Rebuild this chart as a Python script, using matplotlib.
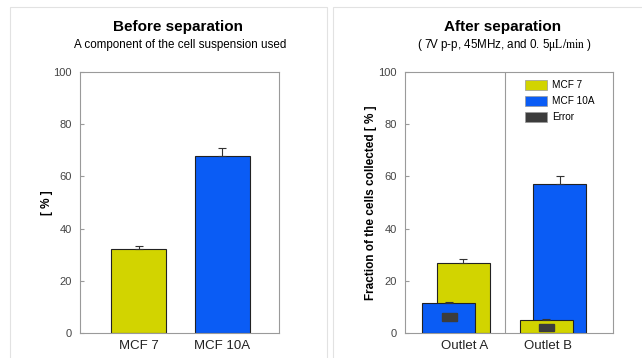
import matplotlib
matplotlib.use("Agg")
import matplotlib.pyplot as plt
from matplotlib.patches import Patch, Rectangle
import numpy as np

plt.rcParams['font.family'] = ['Liberation Sans', 'DejaVu Sans']
plt.rcParams['mathtext.fontset'] = 'stix'

# Data
before_cats = ["MCF 7", "MCF 10A"]
before_vals = [32, 68]
before_err = [1.5, 3.0]

outlets = ["Outlet A", "Outlet B"]
mcf7_vals = [27, 5]
mcf7_err = [1.3, 0.4]
mcf10a_vals = [11.5, 57]
mcf10a_err = [0.4, 3.0]
error_vals = [6.1, 2.1]

yellow = "#d2d400"
blue = "#0a5cf5"
dark = "#3c3c3c"
spine_c = "#9a9a9a"

fig = plt.figure(figsize=(6.42, 3.58), dpi=100)
fig.patch.set_facecolor("white")

# panel frames
for x0, x1 in [(10, 327), (333, 645)]:
    fig.add_artist(Rectangle((x0 / 642, -0.01), (x1 - x0) / 642, 1 - 7 / 358 + 0.01,
                             transform=fig.transFigure, fill=False,
                             edgecolor="#e2e2e2", lw=0.8))

def style(ax):
    ax.set_ylim(0, 100)
    ax.set_yticks([0, 20, 40, 60, 80, 100])
    for s in ax.spines.values():
        s.set_color(spine_c)
        s.set_linewidth(0.8)
    ax.tick_params(axis='y', direction='in', length=3, color=spine_c,
                   labelsize=8, labelcolor="#444444", pad=6)
    ax.tick_params(axis='x', length=0, labelsize=9.5, pad=5, labelcolor="#222222")

# Left panel
ax1 = fig.add_axes([80 / 642, 1 - 333 / 358, 199 / 642, 261 / 358])
style(ax1)
xpos1 = [0.588, 1.432]
ax1.bar(xpos1, before_vals, width=0.553, color=[yellow, blue],
        edgecolor="#222222", linewidth=0.8, zorder=2)
ax1.errorbar(xpos1, before_vals, yerr=[[0, 0], before_err], fmt='none',
             ecolor="#333333", elinewidth=0.8, capsize=3, capthick=0.8, zorder=3)
ax1.set_xlim(0, 2)
ax1.set_xticks(xpos1)
ax1.set_xticklabels(before_cats)
ax1.set_ylabel("[ % ]", fontsize=8.5, fontweight='bold', labelpad=0)
fig.text(178 / 642, 1 - 27 / 358, "Before separation", ha='center', va='center',
         fontsize=11, fontweight='bold')
fig.text(180 / 642, 1 - 45 / 358, "A component of the cell suspension used",
         ha='center', va='center', fontsize=8.4)

# Right panel
ax2 = fig.add_axes([405 / 642, 1 - 333 / 358, 208 / 642, 261 / 358])
style(ax2)
ax2.set_xlim(0, 2)
w = 0.51
# Outlet A: yellow behind (right), blue front (left)
ax2.bar(0.56, mcf7_vals[0], width=w, color=yellow, edgecolor="#222222", lw=0.8, zorder=2)
ax2.errorbar([0.56], [mcf7_vals[0]], yerr=[[0], [mcf7_err[0]]], fmt='none',
             ecolor="#333333", elinewidth=0.8, capsize=3, capthick=0.8, zorder=2.5)
ax2.bar(0.42, mcf10a_vals[0], width=w, color=blue, edgecolor="#222222", lw=0.8, zorder=3)
ax2.errorbar([0.42], [mcf10a_vals[0]], yerr=[[0], [mcf10a_err[0]]], fmt='none',
             ecolor="#333333", elinewidth=0.8, capsize=3, capthick=0.8, zorder=3.5)
# Outlet B: blue behind (right), yellow front (left)
ax2.bar(1.49, mcf10a_vals[1], width=w, color=blue, edgecolor="#222222", lw=0.8, zorder=2)
ax2.errorbar([1.49], [mcf10a_vals[1]], yerr=[[0], [mcf10a_err[1]]], fmt='none',
             ecolor="#333333", elinewidth=0.8, capsize=3, capthick=0.8, zorder=2.5)
ax2.bar(1.356, mcf7_vals[1], width=w, color=yellow, edgecolor="#222222", lw=0.8, zorder=3)
ax2.errorbar([1.356], [mcf7_vals[1]], yerr=[[0], [mcf7_err[1]]], fmt='none',
             ecolor="#333333", elinewidth=0.8, capsize=3, capthick=0.8, zorder=3.5)
# Error markers
for xc, ev in zip([0.43, 1.356], error_vals):
    ax2.add_patch(Rectangle((xc - 0.072, ev - 1.5), 0.144, 3.0, color=dark, zorder=4))
ax2.axvline(0.96, color=spine_c, lw=0.8, zorder=1)
ax2.set_xticks([0.57, 1.375])
ax2.set_xticklabels(outlets)
ax2.set_ylabel("Fraction of the cells collected [ % ]", fontsize=8.5,
               fontweight='bold', labelpad=1)
handles = [Patch(facecolor=yellow, edgecolor="#999999", lw=0.5),
           Patch(facecolor=blue, edgecolor="#999999", lw=0.5),
           Patch(facecolor=dark, edgecolor="#999999", lw=0.5)]
ax2.legend(handles, ["MCF 7", "MCF 10A", "Error"], loc='upper left',
           frameon=False, fontsize=7.2, handlelength=2.2, handleheight=1.15,
           labelspacing=0.55, handletextpad=0.5, borderaxespad=0.0,
           bbox_to_anchor=(0.56, 0.985))
fig.text(503 / 642, 1 - 27 / 358, "After separation", ha='center', va='center',
         fontsize=11, fontweight='bold')
fig.text(504 / 642, 1 - 45 / 358,
         "( 7V p-p, 45MHz, and 0. 5$\\mathrm{\\mu L/min}$ )",
         ha='center', va='center', fontsize=8.4)

fig.savefig("out.png", dpi=100, facecolor="white")
